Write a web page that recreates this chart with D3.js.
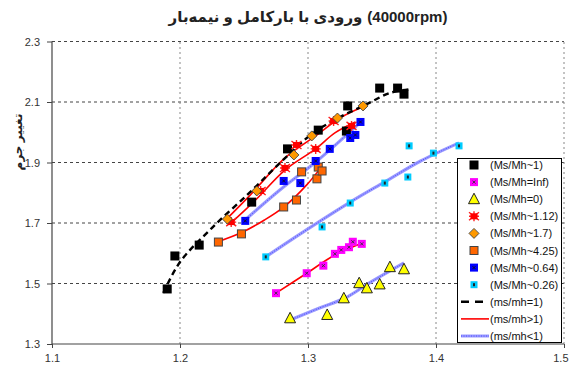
<!DOCTYPE html>
<html>
<head>
<meta charset="utf-8">
<script src="https://cdn.jsdelivr.net/npm/d3@7"></script>
<style>
  html, body { margin: 0; padding: 0; background: #fff; }
  svg { display: block; }
  text { font-family: "Liberation Sans", Arial, "DejaVu Sans", sans-serif; }
</style>
</head>
<body>
<svg id="chart" width="569" height="366"></svg>
<script>
// ---- data: mass flow ratio (x) vs mass change (y) ----
const titleText = "ورودی با بارکامل و نیمه‌بار";
const titleRpm = "(40000rpm)";
const yLabel = "تغییر جرم";
const xTicks = [1.1, 1.2, 1.3, 1.4, 1.5];
const yTicks = [1.3, 1.5, 1.7, 1.9, 2.1, 2.3];

// measured points
const msmh1 = [[1.190,1.482],[1.196,1.591],[1.215,1.627],[1.256,1.769],[1.284,1.945],[1.308,2.007],[1.330,2.004],[1.331,2.087],[1.356,2.146],[1.370,2.146],[1.375,2.126]];
const msmhInf = [[1.275,1.468],[1.299,1.534],[1.312,1.559],[1.321,1.598],[1.326,1.611],[1.332,1.620],[1.335,1.638],[1.342,1.631]];
const msmh0 = [[1.286,1.385],[1.315,1.396],[1.328,1.451],[1.340,1.501],[1.346,1.484],[1.356,1.497],[1.364,1.554],[1.375,1.547]];
const msmh112 = [[1.240,1.703],[1.263,1.806],[1.282,1.882],[1.291,1.958],[1.306,1.945],[1.320,2.037],[1.334,2.021]];
const msmh17 = [[1.237,1.713],[1.260,1.806],[1.289,1.925],[1.303,1.988],[1.323,2.047],[1.343,2.087]];
const msmh425 = [[1.230,1.637],[1.248,1.664],[1.281,1.753],[1.291,1.776],[1.295,1.869],[1.307,1.846],[1.308,1.885],[1.311,1.872]];
const msmh064 = [[1.251,1.707],[1.281,1.839],[1.294,1.832],[1.306,1.905],[1.317,1.945],[1.333,1.981],[1.337,1.991],[1.341,2.034]];
const msmh026 = [[1.267,1.588],[1.311,1.687],[1.333,1.766],[1.360,1.832],[1.378,1.852],[1.379,1.955],[1.398,1.931],[1.418,1.955]];

// fitted trend curves
const trendEq1 = [[1.187,1.469],[1.200,1.571],[1.225,1.684],[1.255,1.803],[1.278,1.898],[1.303,1.994],[1.325,2.050],[1.346,2.093],[1.364,2.130],[1.381,2.143]];
const trendGt1a = [[1.235,1.707],[1.255,1.793],[1.282,1.915],[1.306,1.988],[1.325,2.047],[1.343,2.084]];
const trendGt1b = [[1.239,1.697],[1.259,1.776],[1.282,1.875],[1.306,1.945],[1.321,1.998],[1.337,2.034]];
const trendGt1c = [[1.229,1.637],[1.249,1.670],[1.266,1.710],[1.282,1.756],[1.299,1.826],[1.311,1.888]];
const trendGt1d = [[1.275,1.468],[1.299,1.534],[1.321,1.594],[1.342,1.633]];
const trendLt1a = [[1.249,1.703],[1.278,1.809],[1.307,1.905],[1.342,2.037]];
const trendLt1b = [[1.267,1.588],[1.294,1.664],[1.333,1.769],[1.360,1.836],[1.388,1.905],[1.418,1.965]];
const trendLt1c = [[1.286,1.379],[1.309,1.419],[1.329,1.452],[1.348,1.502],[1.375,1.568]];

// ---- layout ----
const svg = d3.select("#chart");
const x = d3.scaleLinear().domain([1.1, 1.5]).range([52, 564]);
const y = d3.scaleLinear().domain([1.3, 2.3]).range([344, 41.5]);

// title: Persian phrase on the left, rpm note on the right, centred as a pair
const titleGap = 5, titleCenter = 308;
const tFa = svg.append("text").attr("y", 22).attr("text-anchor", "middle")
  .attr("font-size", 15).attr("font-weight", "bold").attr("fill", "#222").text(titleText);
const tRpm = svg.append("text").attr("y", 22).attr("text-anchor", "middle")
  .attr("font-size", 15).attr("font-weight", "bold").attr("fill", "#222").text(titleRpm);
const wFa = tFa.node().getComputedTextLength();
const wRpm = tRpm.node().getComputedTextLength();
const tLeft = titleCenter - (wFa + titleGap + wRpm) / 2;
tFa.attr("x", tLeft + wFa / 2);
tRpm.attr("x", tLeft + wFa + titleGap + wRpm / 2);

// y-axis label
svg.append("text")
  .attr("transform", "translate(22,142) rotate(-90)")
  .attr("text-anchor", "middle")
  .attr("font-size", 12).attr("font-weight", "bold")
  .attr("fill", "#222")
  .text(yLabel);

// gridlines
const grid = svg.append("g");
grid.selectAll("line.h").data(yTicks.slice(1)).join("line")
  .attr("x1", x(1.1)).attr("x2", x(1.5))
  .attr("y1", d => y(d)).attr("y2", d => y(d))
  .attr("stroke", "#444").attr("stroke-width", 1).attr("stroke-dasharray", "3,3");
grid.selectAll("line.v").data(xTicks.slice(1)).join("line")
  .attr("x1", d => x(d)).attr("x2", d => x(d))
  .attr("y1", y(1.3)).attr("y2", y(2.3))
  .attr("stroke", "#888").attr("stroke-width", 1).attr("stroke-dasharray", "2,3");

// axes
const xAxis = d3.axisBottom(x).tickValues(xTicks).tickFormat(d3.format(".1f")).tickSize(4).tickPadding(6);
const yAxis = d3.axisLeft(y).tickValues(yTicks).tickFormat(d3.format(".1f")).tickSize(5).tickPadding(7);
const gx = svg.append("g").attr("transform", `translate(0,${y(1.3)})`).call(xAxis);
const gy = svg.append("g").attr("transform", `translate(${x(1.1)},0)`).call(yAxis);
[gx, gy].forEach(g => {
  g.select(".domain").attr("stroke", "#444").attr("stroke-width", 1.2);
  g.selectAll(".tick line").attr("stroke", "#444");
  g.selectAll(".tick text").attr("font-size", 11).attr("fill", "#333")
    .attr("font-family", "'Liberation Sans', Arial, sans-serif");
});
gx.select(".domain").attr("d", `M${x(1.1)},0H${x(1.5)}`);
gy.select(".domain").attr("d", `M0,${y(2.3)}V${y(1.3)}`);
// keep the last x label inside the canvas
gx.selectAll(".tick text").filter(d => d === 1.5).attr("text-anchor", "end").attr("dx", 4);

// ---- trend lines ----
const line = d3.line().x(d => x(d[0])).y(d => y(d[1])).curve(d3.curveCatmullRom.alpha(0.5));
const lines = svg.append("g").attr("fill", "none");

function blueLine(data) {
  lines.append("path").datum(data).attr("d", line)
    .attr("stroke", "#9a9aff").attr("stroke-width", 3.2);
  lines.append("path").datum(data).attr("d", line)
    .attr("stroke", "#4a4aff").attr("stroke-width", 1).attr("stroke-dasharray", "1,1.5");
}
function redLine(data) {
  lines.append("path").datum(data).attr("d", line)
    .attr("stroke", "#ff0000").attr("stroke-width", 1.6);
}
[trendLt1a, trendLt1b, trendLt1c].forEach(blueLine);
[trendGt1a, trendGt1b, trendGt1c, trendGt1d].forEach(redLine);
lines.append("path").datum(trendEq1).attr("d", line)
  .attr("stroke", "#000").attr("stroke-width", 2.4).attr("stroke-dasharray", "6,4");

// ---- markers ----
const marks = svg.append("g");

function drawMarker(g, kind) {
  switch (kind) {
    case "black":
      g.append("rect").attr("x", -4.5).attr("y", -4.5).attr("width", 9).attr("height", 9).attr("fill", "#000");
      break;
    case "magenta":
      g.append("rect").attr("x", -4).attr("y", -4).attr("width", 8).attr("height", 8).attr("fill", "#ff00ff");
      g.append("path").attr("d", "M-1.5,-1.5L1.5,1.5M1.5,-1.5L-1.5,1.5").attr("stroke", "#333").attr("stroke-width", 0.9);
      break;
    case "tri":
      g.append("path").attr("d", "M0,-6L5.5,4.5L-5.5,4.5Z").attr("fill", "#ffff00").attr("stroke", "#222").attr("stroke-width", 1);
      break;
    case "star":
      g.append("path").attr("d", "M-5,-4L5,4M5,-4L-5,4M0,-5V5M-5,0H5").attr("stroke", "#ff2020").attr("stroke-width", 1.4);
      g.append("rect").attr("x", -3.5).attr("y", -3).attr("width", 7).attr("height", 6).attr("fill", "#ff0000");
      break;
    case "diamond":
      g.append("path").attr("d", "M0,-5L5,0L0,5L-5,0Z").attr("fill", "#ff9900").attr("stroke", "#444").attr("stroke-width", 0.9);
      break;
    case "orange":
      g.append("rect").attr("x", -4).attr("y", -4).attr("width", 8).attr("height", 8).attr("fill", "#ff6600").attr("stroke", "#444").attr("stroke-width", 1);
      break;
    case "blue":
      g.append("rect").attr("x", -4).attr("y", -4).attr("width", 8).attr("height", 8).attr("fill", "#0000ff");
      g.append("path").attr("d", "M-1.5,-1.5L1.5,1.5M1.5,-1.5L-1.5,1.5").attr("stroke", "#111").attr("stroke-width", 0.9);
      break;
    case "cyan":
      g.append("rect").attr("x", -3.5).attr("y", -3.5).attr("width", 7).attr("height", 7).attr("fill", "#00ccff");
      g.append("rect").attr("x", -1).attr("y", -1.5).attr("width", 2).attr("height", 3).attr("fill", "#222");
      break;
  }
}

const seriesList = [
  { data: msmh1, kind: "black", label: "(Ms/Mh~1)" },
  { data: msmhInf, kind: "magenta", label: "(Ms/Mh=Inf)" },
  { data: msmh0, kind: "tri", label: "(Ms/Mh=0)" },
  { data: msmh112, kind: "star", label: "(Ms/Mh~1.12)" },
  { data: msmh17, kind: "diamond", label: "(Ms/Mh~1.7)" },
  { data: msmh425, kind: "orange", label: "(Ms/Mh~4.25)" },
  { data: msmh064, kind: "blue", label: "(Ms/Mh~0.64)" },
  { data: msmh026, kind: "cyan", label: "(Ms/Mh~0.26)" }
];

seriesList.forEach(s => {
  s.data.forEach(d => {
    const g = marks.append("g").attr("transform", `translate(${x(d[0])},${y(d[1])})`);
    drawMarker(g, s.kind);
  });
});

// ---- legend ----
const legend = svg.append("g");
legend.append("rect").attr("x", 457.5).attr("y", 158.5).attr("width", 104).attr("height", 184)
  .attr("fill", "#fff").attr("stroke", "#000").attr("stroke-width", 1);

const rowY = i => 165 + i * 17.1;
seriesList.forEach((s, i) => {
  const g = legend.append("g").attr("transform", `translate(474,${rowY(i)})`);
  drawMarker(g, s.kind);
});
const lineEntries = [
  { label: "(ms/mh=1)", style: "black" },
  { label: "(ms/mh>1)", style: "red" },
  { label: "(ms/mh<1)", style: "blue" }
];
lineEntries.forEach((e, j) => {
  const yy = rowY(8 + j);
  if (e.style === "black") {
    legend.append("line").attr("x1", 461).attr("x2", 489).attr("y1", yy).attr("y2", yy)
      .attr("stroke", "#000").attr("stroke-width", 2.4).attr("stroke-dasharray", "8,6");
  } else if (e.style === "red") {
    legend.append("line").attr("x1", 461).attr("x2", 489).attr("y1", yy).attr("y2", yy)
      .attr("stroke", "#ff0000").attr("stroke-width", 1.6);
  } else {
    legend.append("line").attr("x1", 461).attr("x2", 489).attr("y1", yy).attr("y2", yy)
      .attr("stroke", "#9a9aff").attr("stroke-width", 3);
    legend.append("line").attr("x1", 461).attr("x2", 489).attr("y1", yy).attr("y2", yy)
      .attr("stroke", "#4a4aff").attr("stroke-width", 1).attr("stroke-dasharray", "1,1.5");
  }
});
const labels = seriesList.map(s => s.label).concat(lineEntries.map(e => e.label));
legend.selectAll("text.lab").data(labels).join("text")
  .attr("x", 490).attr("y", (d, i) => rowY(i) + 4)
  .attr("font-size", 11).attr("fill", "#111")
  .text(d => d);
</script>
</body>
</html>
